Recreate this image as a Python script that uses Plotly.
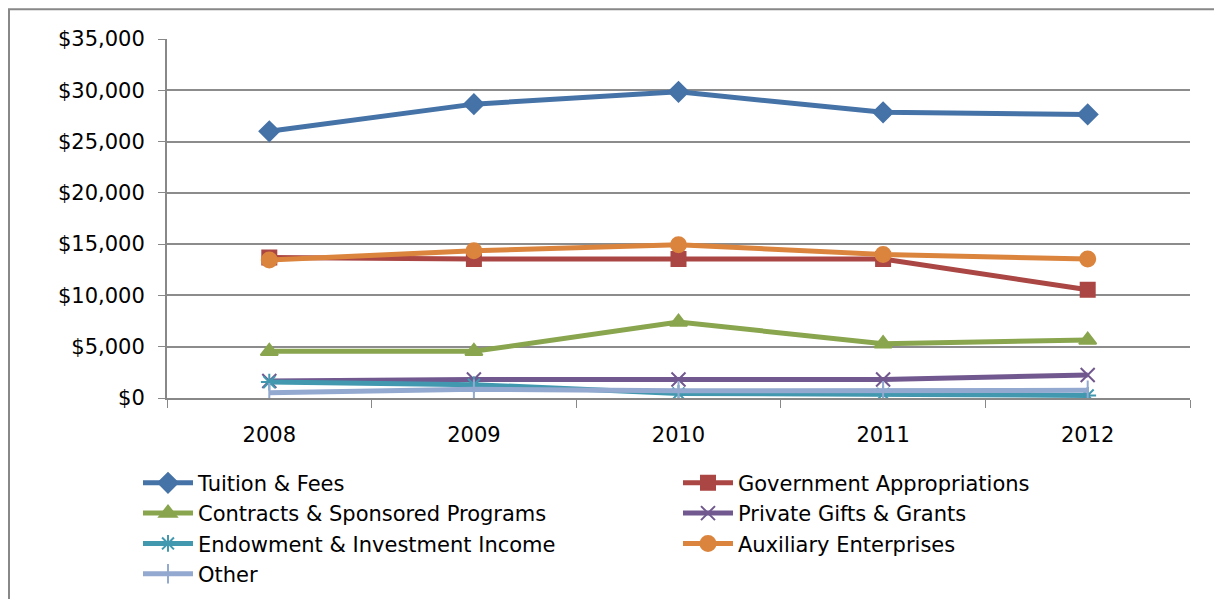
import plotly.graph_objects as go

years = ["2008", "2009", "2010", "2011", "2012"]
tuition = [26000, 28650, 29850, 27850, 27650]
government = [13700, 13550, 13550, 13550, 10550]
contracts = [4550, 4550, 7400, 5300, 5650]
private = [1650, 1800, 1800, 1800, 2250]
endowment = [1550, 1300, 450, 400, 250]
auxiliary = [13450, 14350, 14950, 14000, 13550]
other = [500, 850, 700, 700, 750]

series = [
    ("Tuition & Fees", tuition, "#4572A7", "diamond", 15),
    ("Government Appropriations", government, "#AA4643", "square", 14),
    ("Contracts & Sponsored Programs", contracts, "#89A54E", "triangle-up", 15),
    ("Private Gifts & Grants", private, "#71588F", "x-thin-open", 14),
    ("Endowment & Investment Income", endowment, "#4198AF", "asterisk-open", 14),
    ("Auxiliary Enterprises", auxiliary, "#DB843D", "circle", 15),
    ("Other", other, "#93A9CF", "line-ns-open", 14),
]

fig = go.Figure()
for name, vals, color, sym, size in series:
    fig.add_trace(go.Scatter(
        x=years, y=vals, name=name, mode="lines+markers",
        line=dict(color=color, width=5),
        marker=dict(symbol=sym, size=size, color=color,
                    line=dict(color=color, width=2)),
    ))

font = "DejaVu Sans, Liberation Sans, Arial"
L, T, B, R = 159, 31, 207, 40
W = 1222 - L - R
H = 599 - T - B
bottom = 599 - B
fig.update_layout(
    width=1222, height=599,
    paper_bgcolor="white", plot_bgcolor="white",
    margin=dict(l=L, r=R, t=T, b=B),
    font=dict(family=font, size=21, color="black"),
    showlegend=True,
    legend=dict(orientation="h", x=(130 - L) / W, y=(bottom - 457) / H,
                xanchor="left", yanchor="top",
                xref="paper", yref="paper",
                entrywidth=475, entrywidthmode="pixels", itemwidth=50,
                font=dict(family=font, size=21), tracegroupgap=0,
                bgcolor="rgba(0,0,0,0)"),
    shapes=[dict(type="rect", xref="paper", yref="paper",
                 x0=(1 - L) / W, x1=1.2, y0=-0.8, y1=(bottom - 1) / H,
                 line=dict(color="#888888", width=2))],
)
fig.update_xaxes(type="category", range=[-0.5, 4.5], showline=True,
                 linecolor="#888888", linewidth=2, ticks="outside",
                 tickson="boundaries", ticklen=8, tickcolor="#888888",
                 showgrid=False, tickfont=dict(size=21), ticklabelstandoff=17)
fig.update_yaxes(range=[0, 35000], dtick=5000, tickprefix="$",
                 tickformat=",d", showline=True, linecolor="#888888",
                 linewidth=2, ticks="outside", ticklen=7, tickcolor="#888888",
                 gridcolor="#8c8c8c", gridwidth=1.5, zeroline=False,
                 tickfont=dict(size=21), ticklabelstandoff=9)

fig.write_html("out.html")
